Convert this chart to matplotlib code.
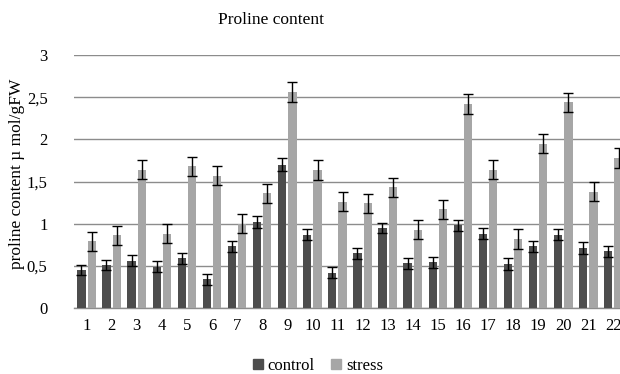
import matplotlib
matplotlib.use("Agg")
import matplotlib.pyplot as plt
import numpy as np
from matplotlib.patches import Patch

categories = [str(i) for i in range(1, 23)]
control = [0.45, 0.51, 0.56, 0.49, 0.59, 0.34, 0.73, 1.02, 1.70, 0.87, 0.42,
           0.65, 0.95, 0.53, 0.54, 0.98, 0.88, 0.52, 0.73, 0.87, 0.71, 0.67]
stress = [0.79, 0.86, 1.64, 0.88, 1.68, 1.57, 1.00, 1.36, 2.56, 1.64, 1.26,
          1.24, 1.43, 0.93, 1.17, 2.42, 1.64, 0.82, 1.95, 2.44, 1.38, 1.78]
control_err = [0.061, 0.063, 0.065, 0.067, 0.067, 0.063, 0.063, 0.069, 0.073, 0.069, 0.069,
               0.065, 0.059, 0.067, 0.067, 0.065, 0.063, 0.067, 0.063, 0.063, 0.069, 0.063]
stress_err = [0.113, 0.115, 0.113, 0.113, 0.113, 0.115, 0.115, 0.113, 0.115, 0.117, 0.115,
              0.111, 0.113, 0.113, 0.115, 0.115, 0.115, 0.115, 0.115, 0.115, 0.115, 0.115]
yticks = [0, 0.5, 1, 1.5, 2, 2.5, 3]
ytick_labels = ["0", "0,5", "1", "1,5", "2", "2,5", "3"]

plt.rcParams['font.family'] = ['Liberation Serif', 'DejaVu Serif']

W, H = 620, 374
fig = plt.figure(figsize=(W / 100, H / 100), dpi=100)
left, right, top, bottom = 74, 626, 55, 308
ax = fig.add_axes([left / W, 1 - bottom / H, (right - left) / W, (bottom - top) / H])

x = np.arange(len(categories))
bw = 0.33
off = 0.205
dark = '#4d4d4d'
light = '#a6a6a6'
ekw = dict(ecolor='black', elinewidth=1.0, capsize=3.5, capthick=1.0)
ax.bar(x - off, control, bw, color=dark, yerr=control_err, error_kw=ekw, zorder=3)
ax.bar(x + off, stress, bw, color=light, yerr=stress_err, error_kw=ekw, zorder=3)

ax.set_xlim(-0.5, len(categories) - 0.5)
ax.set_ylim(0, 3)
ax.set_yticks(yticks)
ax.set_yticklabels(ytick_labels)
ax.set_xticks(x)
ax.set_xticklabels(categories)
ax.tick_params(axis='both', length=0, labelsize=12)
ax.tick_params(axis='y', pad=19)
ax.tick_params(axis='x', pad=7)
ax.yaxis.grid(True, color='#8c8c8c', linewidth=1.0, zorder=0)
ax.set_axisbelow(True)
for s in ['top', 'right', 'left']:
    ax.spines[s].set_visible(False)
ax.spines['bottom'].set_color('#8c8c8c')
ax.spines['bottom'].set_linewidth(1.0)

ax.set_ylabel('proline content µ mol/gFW', fontsize=12.5)
ax.yaxis.set_label_coords(-49 / (right - left), 0.53)

fig.text(271 / W, 1 - 20 / H, 'Proline content', ha='center', va='center', fontsize=12.5)

handles = [Patch(color=dark, label='control'), Patch(color=light, label='stress')]
fig.legend(handles=handles, loc='center', bbox_to_anchor=(318 / W, 1 - 366 / H), ncol=2,
           frameon=False, fontsize=12, handlelength=0.6, handleheight=0.6,
           handletextpad=0.3, columnspacing=1.0)

fig.savefig('out.png', dpi=100)
